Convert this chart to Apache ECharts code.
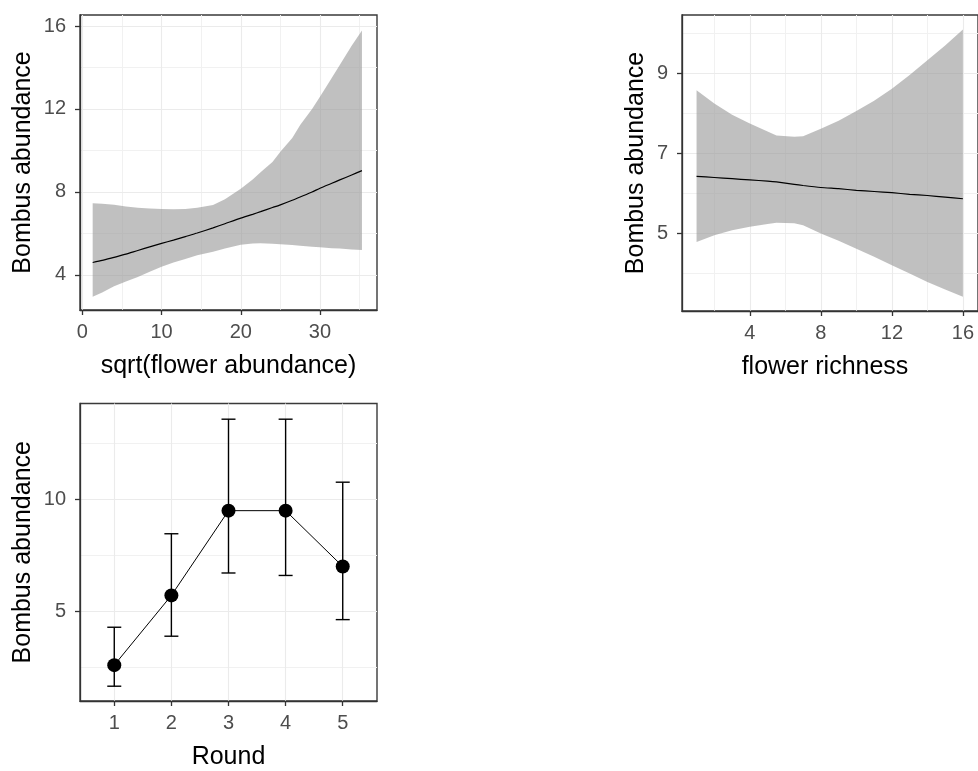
<!DOCTYPE html>
<html>
<head>
<meta charset="utf-8">
<script src="https://cdn.jsdelivr.net/npm/echarts@6/dist/echarts.min.js"></script>
<style>
html,body{margin:0;padding:0;background:#fff;}
#chart{width:978px;height:771px;}
</style>
</head>
<body>
<div id="chart"></div>
<script>
// ---- Panel 1: sqrt(flower abundance) ----
const p1X     = [1.3, 2.5, 4, 5.5, 7, 8.5, 10, 11.5, 13, 14.5, 16.5, 18, 20, 21.5, 22.5, 24, 25, 26.5, 27.5, 29, 30, 31.5, 32.5, 34, 35.3];
const p1Fit   = [4.6, 4.7, 4.85, 5.0, 5.18, 5.35, 5.52, 5.68, 5.85, 6.02, 6.27, 6.47, 6.74, 6.92, 7.05, 7.25, 7.38, 7.6, 7.76, 8.0, 8.18, 8.42, 8.58, 8.82, 9.03];
const p1Upper = [7.46, 7.43, 7.38, 7.3, 7.24, 7.2, 7.18, 7.17, 7.18, 7.24, 7.37, 7.65, 8.16, 8.6, 8.95, 9.45, 9.94, 10.6, 11.23, 12.0, 12.59, 13.5, 14.12, 15.05, 15.78];
const p1Lower = [2.95, 3.15, 3.45, 3.68, 3.9, 4.15, 4.4, 4.6, 4.77, 4.95, 5.12, 5.28, 5.45, 5.52, 5.53, 5.5, 5.48, 5.44, 5.41, 5.36, 5.33, 5.29, 5.27, 5.23, 5.2];
const p1XTicks = [0, 10, 20, 30];
const p1XMinor = [5, 15, 25, 35];
const p1YTicks = [4, 8, 12, 16];
const p1YMinor = [6, 10, 14];

// ---- Panel 2: flower richness ----
const p2X     = [1, 2, 3, 4, 5, 5.5, 6.5, 7, 8, 9, 10, 11, 12, 13, 14, 15, 16];
const p2Fit   = [6.43, 6.40, 6.37, 6.34, 6.31, 6.29, 6.23, 6.2, 6.15, 6.12, 6.08, 6.05, 6.02, 5.98, 5.95, 5.91, 5.87];
const p2Upper = [8.58, 8.25, 7.97, 7.75, 7.55, 7.45, 7.42, 7.43, 7.62, 7.82, 8.06, 8.32, 8.62, 8.96, 9.33, 9.7, 10.1];
const p2Lower = [4.79, 4.96, 5.08, 5.17, 5.24, 5.27, 5.26, 5.21, 5.0, 4.82, 4.62, 4.42, 4.21, 4.0, 3.79, 3.6, 3.42];
const p2XTicks = [4, 8, 12, 16];
const p2XMinor = [2, 6, 10, 14];
const p2YTicks = [5, 7, 9];
const p2YMinor = [4, 6, 8, 10];

// ---- Panel 3: Round ----
const rounds    = [1, 2, 3, 4, 5];
const roundMean = [2.6, 5.71, 9.49, 9.49, 7.0];
const roundLow  = [1.66, 3.89, 6.71, 6.6, 4.63];
const roundHigh = [4.29, 8.46, 13.57, 13.57, 10.76];
const p3YTicks = [5, 10];
const p3YMinor = [2.5, 7.5, 12.5];

const FONT = "'Liberation Sans', Arial, sans-serif";
const TICK_COLOR = '#4d4d4d';
const BORDER = '#333333';

function gridLines(xMaj, xMin, yMaj, yMin) {
  const d = [];
  xMin.forEach(v => d.push({xAxis: v, lineStyle: {color: '#f1f1f1', width: 1}}));
  yMin.forEach(v => d.push({yAxis: v, lineStyle: {color: '#f1f1f1', width: 1}}));
  xMaj.forEach(v => d.push({xAxis: v, lineStyle: {color: '#ebebeb', width: 1.1}}));
  yMaj.forEach(v => d.push({yAxis: v, lineStyle: {color: '#ebebeb', width: 1.1}}));
  return {
    silent: true, symbol: ['none', 'none'], label: {show: false}, z: 0,
    lineStyle: {type: 'solid'}, emphasis: {disabled: true},
    animation: false, data: d
  };
}

function gridSeries(idx, anchor, grid) {
  return {
    type: 'custom', xAxisIndex: idx, yAxisIndex: idx, z: 0, silent: true,
    data: [anchor], renderItem: function () { return null; },
    markLine: grid
  };
}

function xAxisDef(idx, min, max, ticks, name, namePad) {
  return {
    type: 'value', gridIndex: idx, min: min, max: max,
    splitLine: {show: false},
    axisLine: {show: true, onZero: false, lineStyle: {color: BORDER, width: 1.3}},
    axisTick: {show: true, length: 5, customValues: ticks, lineStyle: {color: BORDER, width: 1.3}},
    axisLabel: {customValues: ticks, color: TICK_COLOR, fontSize: 20, fontFamily: FONT, margin: 12},
    name: name, nameLocation: 'middle', nameGap: 44,
    nameTextStyle: {color: '#000', fontSize: 25, fontFamily: FONT, padding: namePad || 0}
  };
}
function yAxisDef(idx, min, max, ticks, gap) {
  return {
    type: 'value', gridIndex: idx, min: min, max: max,
    splitLine: {show: false},
    axisLine: {show: true, onZero: false, lineStyle: {color: BORDER, width: 1.3}},
    axisTick: {show: true, length: 5, customValues: ticks, lineStyle: {color: BORDER, width: 1.3}},
    axisLabel: {customValues: ticks, color: TICK_COLOR, fontSize: 20, fontFamily: FONT, margin: 14},
    name: 'Bombus abundance', nameLocation: 'middle', nameGap: gap, nameRotate: 90,
    nameTextStyle: {color: '#000', fontSize: 25, fontFamily: FONT}
  };
}

function zip(a, b) { return a.map((v, i) => [v, b[i]]); }

function ribbonSeries(idx, xs, lower, upper, fit) {
  return [
    {
      type: 'custom', xAxisIndex: idx, yAxisIndex: idx, z: 1, silent: true,
      data: xs.map((x, i) => [x, lower[i], upper[i]]),
      encode: {x: 0, y: [1, 2]},
      renderItem: function (params, api) {
        if (params.dataIndex !== 0) return null;
        const top = xs.map((x, i) => api.coord([x, upper[i]]));
        const bot = xs.map((x, i) => api.coord([x, lower[i]])).reverse();
        return {
          type: 'polygon',
          shape: {points: top.concat(bot)},
          style: {fill: 'rgba(153,153,153,0.62)', stroke: null}
        };
      }
    },
    {
      type: 'line', xAxisIndex: idx, yAxisIndex: idx,
      data: zip(xs, fit), symbol: 'none', smooth: 0.2,
      lineStyle: {color: '#000', width: 1.2}, z: 3, silent: true
    }
  ];
}

const chart = echarts.init(document.getElementById('chart'), null, {renderer: 'canvas'});
const option = {
  animation: false,
  backgroundColor: '#ffffff',
  grid: [
    {left: 80, top: 15, width: 297, height: 295, show: true, borderColor: '#3a3a3a', borderWidth: 1.4, backgroundColor: 'transparent'},
    {left: 682, top: 15, width: 297, height: 296, show: true, borderColor: '#3a3a3a', borderWidth: 1.4, backgroundColor: 'transparent'},
    {left: 80, top: 403.5, width: 297, height: 298, show: true, borderColor: '#3a3a3a', borderWidth: 1.4, backgroundColor: 'transparent'}
  ],
  xAxis: [
    xAxisDef(0, -0.3, 37.2, p1XTicks, 'sqrt(flower abundance)'),
    xAxisDef(1, 0.18, 16.85, p2XTicks, 'flower richness', [0, 10, 0, 0]),
    xAxisDef(2, 0.4, 5.6, rounds, 'Round')
  ],
  yAxis: [
    yAxisDef(0, 2.31, 16.53, p1YTicks, 44),
    yAxisDef(1, 3.065, 10.46, p2YTicks, 33),
    yAxisDef(2, 1.0, 14.27, p3YTicks, 44)
  ],
  series: [
    gridSeries(0, [p1X[0], p1Fit[0]], gridLines(p1XTicks, p1XMinor, p1YTicks, p1YMinor)),
    gridSeries(1, [p2X[0], p2Fit[0]], gridLines(p2XTicks, p2XMinor, p2YTicks, p2YMinor)),
    gridSeries(2, [rounds[0], roundMean[0]], gridLines(rounds, [], p3YTicks, p3YMinor)),
    ...ribbonSeries(0, p1X, p1Lower, p1Upper, p1Fit),
    ...ribbonSeries(1, p2X, p2Lower, p2Upper, p2Fit),
    {
      type: 'custom', xAxisIndex: 2, yAxisIndex: 2, z: 3, silent: true,
      data: rounds.map((r, i) => [r, roundLow[i], roundHigh[i]]),
      encode: {x: 0, y: [1, 2]},
      renderItem: function (params, api) {
        const x = api.value(0);
        const lo = api.coord([x, api.value(1)]);
        const hi = api.coord([x, api.value(2)]);
        const w = 7;
        const st = {stroke: '#000', lineWidth: 1.4};
        return {
          type: 'group',
          children: [
            {type: 'line', shape: {x1: lo[0], y1: lo[1], x2: hi[0], y2: hi[1]}, style: st},
            {type: 'line', shape: {x1: lo[0] - w, y1: lo[1], x2: lo[0] + w, y2: lo[1]}, style: st},
            {type: 'line', shape: {x1: hi[0] - w, y1: hi[1], x2: hi[0] + w, y2: hi[1]}, style: st}
          ]
        };
      }
    },
    {
      type: 'line', xAxisIndex: 2, yAxisIndex: 2, z: 4, silent: true,
      data: zip(rounds, roundMean),
      symbol: 'circle', symbolSize: 14, showSymbol: true,
      itemStyle: {color: '#000'},
      lineStyle: {color: '#000', width: 1}
    }
  ]
};
chart.setOption(option);
</script>
</body>
</html>
